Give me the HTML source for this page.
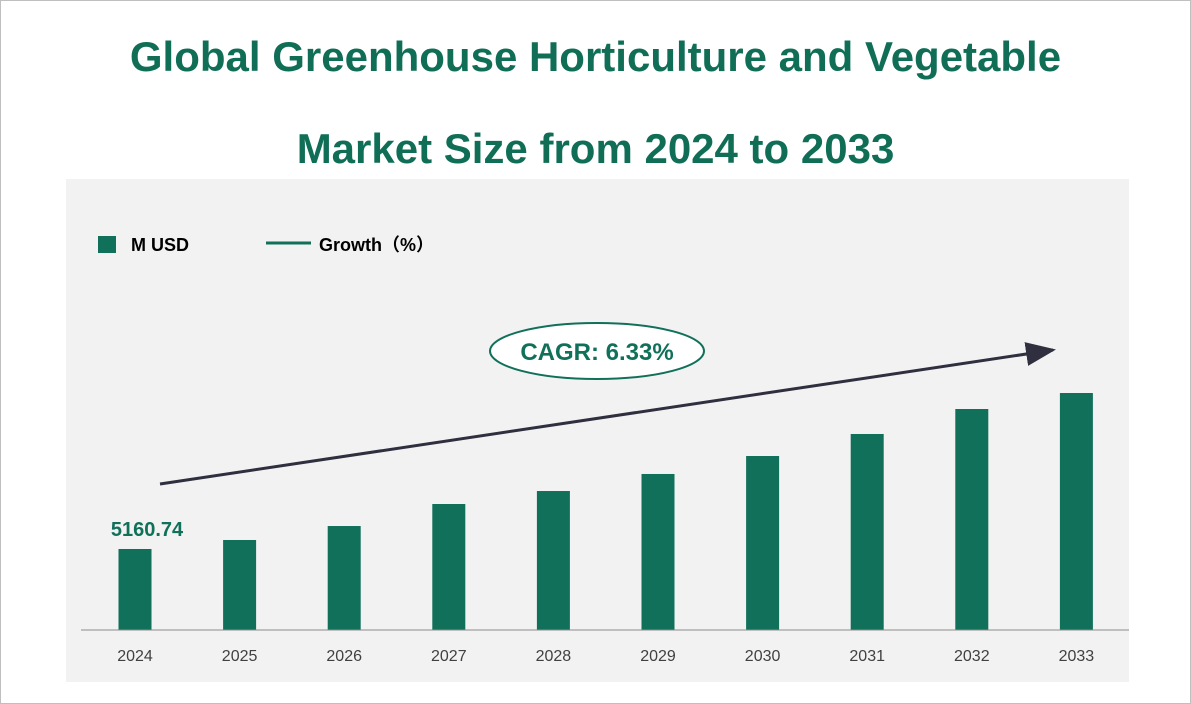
<!DOCTYPE html>
<html><head><meta charset="utf-8"><style>
body{margin:0;background:#fff;}
#wrap{position:relative;width:1189px;height:702px;border:1px solid #bfbfbf;background:#fff;overflow:hidden;font-family:"Liberation Sans","Noto Sans CJK SC",sans-serif;}
.title{position:absolute;left:0;width:1189px;text-align:center;color:#0f6e55;font-weight:bold;font-size:42px;}
</style></head><body>
<div id="wrap">
<div class="title" style="top:32px">Global Greenhouse Horticulture and Vegetable</div>
<div class="title" style="top:124px">Market Size from 2024 to 2033</div>
<svg id="chart" width="1189" height="702" style="position:absolute;left:0;top:0">
<rect x="65" y="178" width="1063" height="503" fill="#f2f2f2"/>
<rect x="97" y="235" width="18" height="17" fill="#10705a"/>
<text x="130" y="250" font-size="18" font-weight="bold" fill="#000" font-family="Liberation Sans, sans-serif">M USD</text>
<line x1="265" y1="242" x2="310" y2="242" stroke="#10705a" stroke-width="3"/>
<text x="318" y="250" font-size="18" font-weight="bold" fill="#000" font-family="Liberation Sans, Noto Sans CJK SC, sans-serif">Growth（%）</text>
<g id="bars"></g>
<line x1="80" y1="629" x2="1128" y2="629" stroke="#8c8c8c" stroke-width="1"/>
<defs><marker id="ah" markerWidth="10" markerHeight="8" refX="9" refY="4" orient="auto"><path d="M0,0 L10,4 L0,8 z" fill="#2f2f3f"/></marker></defs>
<line x1="159" y1="483" x2="1052" y2="349" stroke="#2f2f3f" stroke-width="3" marker-end="url(#ah)"/>
<ellipse cx="596" cy="350" rx="107" ry="28" fill="#fff" stroke="#10705a" stroke-width="2"/>
<text x="596" y="359" text-anchor="middle" font-size="24" font-weight="bold" fill="#10705a" font-family="Liberation Sans, sans-serif">CAGR: 6.33%</text>
</svg>
</div>
<script>
const categories=["2024","2025","2026","2027","2028","2029","2030","2031","2032","2033"];
const values=[5160.74,5379,5718,6252,6567,6980,7416,7950,8556,8944];
const firstLabel="5160.74";
const baseY=629, yMin=3196, k=0.04123;
function y(v){return baseY-(v-yMin)*k;}
function x(i){return 134+i*104.6;}
const g=document.getElementById('bars');
const ns="http://www.w3.org/2000/svg";
categories.forEach((c,i)=>{
  const r=document.createElementNS(ns,'rect');
  r.setAttribute('x',x(i)-16.5);r.setAttribute('width',33);
  r.setAttribute('y',y(values[i]));r.setAttribute('height',baseY-y(values[i]));
  r.setAttribute('fill','#10705a');
  
  
  g.appendChild(r);
  const t=document.createElementNS(ns,'text');
  t.setAttribute('x',x(i));t.setAttribute('y',660);t.setAttribute('text-anchor','middle');
  t.setAttribute('font-size','16');t.setAttribute('fill','#404040');
  t.setAttribute('font-family','Liberation Sans, sans-serif');
  t.textContent=c;
  
  
  g.appendChild(t);
});
const lab=document.createElementNS(ns,'text');
lab.setAttribute('x',x(0)+12);lab.setAttribute('y',y(values[0])-13);lab.setAttribute('text-anchor','middle');
lab.setAttribute('font-size','20');lab.setAttribute('font-weight','bold');lab.setAttribute('fill','#10705a');
lab.setAttribute('font-family','Liberation Sans, sans-serif');
lab.textContent=firstLabel;


g.appendChild(lab);
</script>
</body></html>
